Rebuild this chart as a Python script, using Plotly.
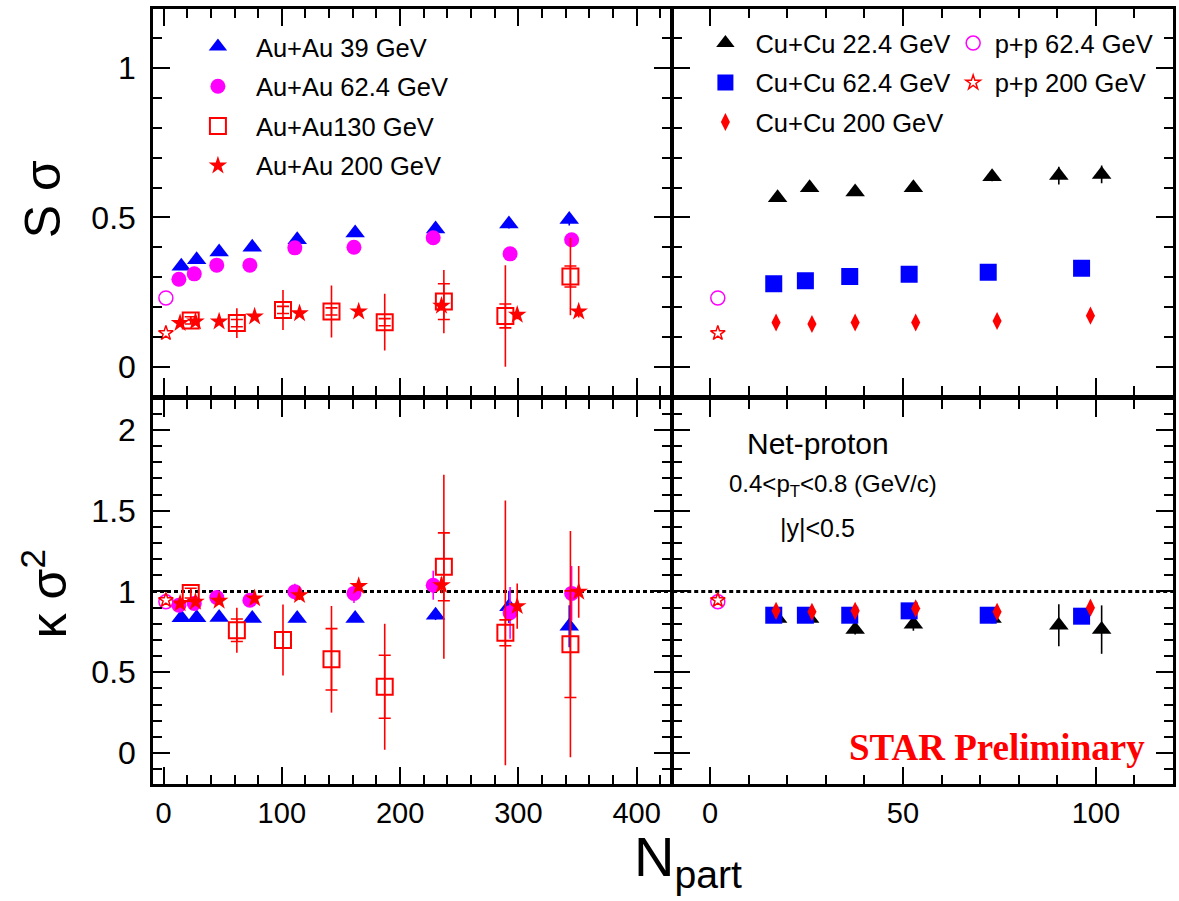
import plotly.graph_objects as go

# ---------------- data ----------------
# Npart values
npart_auau39 = [15, 28, 47, 75, 113, 162, 230, 292, 343]
npart_auau62 = [13, 26, 45, 73, 111, 161, 228, 293, 345]
npart_auau130 = [23, 62, 101, 142, 187, 237, 289, 344]
npart_auau200 = [14, 27, 47, 77, 115, 165, 235, 299, 351]
npart_pp = [2]
npart_cucu22 = [17.5, 25.8, 37.6, 52.7, 73.1, 90.4, 101.5]
npart_cucu62 = [16.5, 24.7, 36.2, 51.6, 72.1, 96.3]
npart_cucu200 = [17.1, 26.4, 37.6, 53.3, 74.4, 98.6]

# S*sigma
ss_auau39 = [0.336, 0.358, 0.384, 0.400, 0.425, 0.448, 0.461, 0.478, 0.493]
ss_auau39_err = [0.01, 0.01, 0.01, 0.01, 0.01, 0.01, 0.015, 0.015, 0.02]
ss_auau62 = [0.293, 0.311, 0.340, 0.340, 0.398, 0.400, 0.432, 0.378, 0.425]
ss_auau62_err = [0.01, 0.01, 0.01, 0.01, 0.01, 0.01, 0.015, 0.015, 0.02]
ss_auau130 = [0.155, 0.146, 0.190, 0.185, 0.149, 0.218, 0.170, 0.302]
ss_auau130_stat = [0.012, 0.05, 0.067, 0.087, 0.095, 0.106, 0.17, 0.13]
ss_auau130_sys = [0.012, 0.012, 0.012, 0.012, 0.012, 0.06, 0.04, 0.035]
ss_auau200 = [0.146, 0.151, 0.151, 0.168, 0.179, 0.185, 0.204, 0.174, 0.185]
ss_auau200_err = [0.01, 0.01, 0.01, 0.01, 0.01, 0.01, 0.015, 0.015, 0.02]
ss_pp62 = [0.230]
ss_pp200 = [0.112]
ss_cucu22 = [0.566, 0.599, 0.585, 0.599, 0.636, 0.640, 0.644]
ss_cucu22_err = [0.01, 0.01, 0.01, 0.012, 0.015, 0.03, 0.03]
ss_cucu62 = [0.278, 0.288, 0.302, 0.310, 0.316, 0.330]
ss_cucu200 = [0.148, 0.143, 0.148, 0.148, 0.153, 0.171]

# kappa*sigma^2
ks_auau39 = [0.837, 0.837, 0.839, 0.833, 0.833, 0.833, 0.853, 0.905, 0.785]
ks_auau39_err = [0.02, 0.02, 0.02, 0.02, 0.02, 0.02, 0.03, 0.10, 0.13]
ks_auau62 = [0.915, 0.926, 0.963, 0.946, 0.998, 0.988, 1.039, 0.868, 0.988]
ks_auau62_err = [0.02, 0.02, 0.03, 0.03, 0.05, 0.06, 0.09, 0.16, 0.17]
ks_auau130 = [0.990, 0.760, 0.700, 0.580, 0.410, 1.153, 0.744, 0.674]
ks_auau130_stat = [0.03, 0.14, 0.22, 0.33, 0.39, 0.57, 0.82, 0.70]
ks_auau130_sys = [0.03, 0.07, 0.05, 0.19, 0.195, 0.21, 0.08, 0.33]
ks_auau200 = [0.926, 0.936, 0.942, 0.957, 0.977, 1.033, 1.039, 0.909, 0.998]
ks_auau200_err = [0.02, 0.02, 0.02, 0.02, 0.03, 0.03, 0.05, 0.14, 0.16]
ks_pp62 = [0.936]
ks_pp200 = [0.946]
ks_cucu22 = [0.833, 0.833, 0.764, 0.797, 0.833, 0.791, 0.764]
ks_cucu22_err = [0.02, 0.02, 0.03, 0.04, 0.03, 0.13, 0.15]
ks_cucu62 = [0.853, 0.853, 0.853, 0.880, 0.853, 0.847]
ks_cucu200 = [0.880, 0.874, 0.880, 0.895, 0.874, 0.900]
ks_cucu200_err = [0.02, 0.02, 0.02, 0.02, 0.02, 0.02]

ref_line = 1.0

# ---------------- styles ----------------
FONT = "Liberation Sans, Arial, sans-serif"
RED = "#ff0000"
BLUE = "#0000ff"
MAG = "#ff00ff"
BLK = "#000000"

sty = {
    "auau39": dict(symbol="triangle-up", color=BLUE, size=17),
    "auau62": dict(symbol="circle", color=MAG, size=15),
    "auau130": dict(symbol="square-open", color=RED, size=16, line=dict(width=2, color=RED)),
    "auau200": dict(symbol="star", color=RED, size=14),
    "pp62": dict(symbol="circle-open", color=MAG, size=14, line=dict(width=1.5, color=MAG)),
    "pp200": dict(symbol="star-open", color=RED, size=11, line=dict(width=1.5, color=RED)),
    "cucu22": dict(symbol="triangle-up", color=BLK, size=17),
    "cucu62": dict(symbol="square", color=BLUE, size=17),
    "cucu200": dict(symbol="diamond-tall", color=RED, size=13),
}

fig = go.Figure()


def add(x, y, key, xa, ya, name=None, err=None, legend=None, color=None):
    marker = dict(sty[key])
    ekw = {}
    if err is not None:
        ekw["error_y"] = dict(type="data", array=err, visible=True, width=0,
                              thickness=1.6, color=color or marker["color"])
    fig.add_trace(go.Scatter(
        x=x, y=y, mode="markers", marker=marker, xaxis=xa, yaxis=ya,
        name=name or key, showlegend=legend is not None,
        legend=legend if legend else "legend",
        legendgroup=key, **ekw))


def add_sys(x, y, sys, xa, ya):
    fig.add_trace(go.Scatter(
        x=x, y=y, mode="markers", marker=dict(size=1, opacity=0),
        error_y=dict(type="data", array=sys, visible=True, width=6,
                     thickness=1.6, color=RED),
        xaxis=xa, yaxis=ya, showlegend=False, hoverinfo="skip"))


# top-left
add(npart_auau39, ss_auau39, "auau39", "x", "y", "Au+Au 39 GeV", ss_auau39_err, "legend")
add(npart_auau62, ss_auau62, "auau62", "x", "y", "Au+Au 62.4 GeV", ss_auau62_err, "legend")
add_sys(npart_auau130, ss_auau130, ss_auau130_sys, "x", "y")
add(npart_auau130, ss_auau130, "auau130", "x", "y", "Au+Au130 GeV", ss_auau130_stat, "legend")
add(npart_auau200, ss_auau200, "auau200", "x", "y", "Au+Au 200 GeV", ss_auau200_err, "legend")
add(npart_pp, ss_pp62, "pp62", "x", "y")
add(npart_pp, ss_pp200, "pp200", "x", "y")

# top-right
add(npart_cucu22, ss_cucu22, "cucu22", "x2", "y2", "Cu+Cu 22.4 GeV", ss_cucu22_err, "legend2")
add(npart_cucu62, ss_cucu62, "cucu62", "x2", "y2", "Cu+Cu 62.4 GeV", None, "legend2")
add(npart_cucu200, ss_cucu200, "cucu200", "x2", "y2", "Cu+Cu 200 GeV", None, "legend2")
add(npart_pp, ss_pp62, "pp62", "x2", "y2", "p+p 62.4 GeV", None, "legend3")
add(npart_pp, ss_pp200, "pp200", "x2", "y2", "p+p 200 GeV", None, "legend3")

# bottom-left
add(npart_auau39, ks_auau39, "auau39", "x3", "y3", err=ks_auau39_err)
add(npart_auau62, ks_auau62, "auau62", "x3", "y3", err=ks_auau62_err)
add_sys(npart_auau130, ks_auau130, ks_auau130_sys, "x3", "y3")
add(npart_auau130, ks_auau130, "auau130", "x3", "y3", err=ks_auau130_stat)
add(npart_auau200, ks_auau200, "auau200", "x3", "y3", err=ks_auau200_err)
add(npart_pp, ks_pp62, "pp62", "x3", "y3")
add(npart_pp, ks_pp200, "pp200", "x3", "y3")

# bottom-right
add(npart_cucu22, ks_cucu22, "cucu22", "x4", "y4", err=ks_cucu22_err)
add(npart_cucu62, ks_cucu62, "cucu62", "x4", "y4")
add(npart_cucu200, ks_cucu200, "cucu200", "x4", "y4", err=ks_cucu200_err)
add(npart_pp, ks_pp62, "pp62", "x4", "y4")
add(npart_pp, ks_pp200, "pp200", "x4", "y4")

# reference line at 1 in bottom panels
for xa, ya in (("x3", "y3"), ("x4", "y4")):
    fig.add_shape(type="line", xref=f"{xa} domain", yref=ya, x0=0, x1=1,
                  y0=ref_line, y1=ref_line,
                  line=dict(color="black", width=3, dash="4px,3px"), layer="below")

W, H = 1179, 901
L, R, T, B = 153, 3, 9, 117
PW, PH = W - L - R, H - T - B


def px(xp):
    return (xp - L) / PW


def py(yp):
    return (H - B - yp) / PH


LW = 2.5
ax_common = dict(showline=True, linecolor="black", linewidth=LW, mirror="allticks",
                 ticks="inside", tickcolor="black", tickwidth=1.5, ticklen=17,
                 showgrid=False, zeroline=False, color="black")


def minor(d):
    return dict(dtick=d, tick0=0, ticks="inside", ticklen=9, tickcolor="black", tickwidth=1.5)


xl_dom = [0, px(672.25)]
xr_dom = [px(674.75), 1]
yt_dom = [py(394.75), 1]
yb_dom = [0, py(400.25)]
xl_rng = [-8.9, 428.8]
xr_rng = [-9.56, 120]
yt_rng = [-0.094, 1.198]
yb_rng = [-0.192, 2.184]

fig.update_layout(
    width=W, height=H, margin=dict(l=L, r=R, t=T, b=B),
    paper_bgcolor="white", plot_bgcolor="white",
    font=dict(family=FONT, color="black"),
    xaxis=dict(domain=xl_dom, range=xl_rng, anchor="y", showticklabels=False,
               tickvals=[0, 100, 200, 300, 400], minor=minor(20), **ax_common),
    xaxis2=dict(domain=xr_dom, range=xr_rng, anchor="y2", showticklabels=False,
                tickvals=[0, 50, 100], minor=minor(10), **ax_common),
    xaxis3=dict(domain=xl_dom, range=xl_rng, anchor="y3",
                tickvals=[0, 100, 200, 300, 400], tickfont=dict(size=29, family=FONT),
                ticklabelstandoff=1, minor=minor(20), **ax_common),
    xaxis4=dict(domain=xr_dom, range=xr_rng, anchor="y4",
                tickvals=[0, 50, 100], tickfont=dict(size=29, family=FONT),
                ticklabelstandoff=1, minor=minor(10), **ax_common),
    yaxis=dict(domain=yt_dom, range=yt_rng, anchor="x",
               tickvals=[0, 0.5, 1], ticktext=["0", "0.5", "1"], tickfont=dict(size=32),
               ticklabelstandoff=8, minor=minor(0.1), **ax_common),
    yaxis2=dict(domain=yt_dom, range=yt_rng, anchor="x2", showticklabels=False,
                tickvals=[0, 0.5, 1], minor=minor(0.1), **ax_common),
    yaxis3=dict(domain=yb_dom, range=yb_rng, anchor="x3",
                tickvals=[0, 0.5, 1, 1.5, 2], ticktext=["0", "0.5", "1", "1.5", "2"],
                tickfont=dict(size=32), ticklabelstandoff=8, minor=minor(0.1), **ax_common),
    yaxis4=dict(domain=yb_dom, range=yb_rng, anchor="x4", showticklabels=False,
                tickvals=[0, 0.5, 1, 1.5, 2], minor=minor(0.1), **ax_common),
    legend=dict(x=px(180), y=py(23.5), xanchor="left", yanchor="top", bgcolor="rgba(0,0,0,0)",
                font=dict(size=25.5, family=FONT), itemwidth=66, tracegroupgap=3.5),
    legend2=dict(x=px(697), y=py(20), xanchor="left", yanchor="top", bgcolor="rgba(0,0,0,0)",
                 font=dict(size=25.5, family=FONT), itemwidth=50, tracegroupgap=3.3),
    legend3=dict(x=px(954), y=py(20), xanchor="left", yanchor="top", bgcolor="rgba(0,0,0,0)",
                 font=dict(size=25.5, family=FONT), itemwidth=33, tracegroupgap=3.3),
)

ann = [
    dict(text="Net-proton", x=px(820), y=py(443), size=30),
    dict(text="0.4&lt;p<sub>T</sub>&lt;0.8 (GeV/c)", x=px(835), y=py(485), size=24),
    dict(text="|y|&lt;0.5", x=px(819), y=py(528), size=25),
]
for a in ann:
    fig.add_annotation(text=a["text"], x=a["x"], y=a["y"], xref="paper", yref="paper",
                       showarrow=False, font=dict(size=a["size"], family=FONT, color="black"),
                       xanchor="center", yanchor="middle")

fig.add_annotation(text="<b>STAR Preliminary</b>", x=px(999), y=py(747), xref="paper", yref="paper",
                   showarrow=False, font=dict(size=37, family="Liberation Serif, Times New Roman, serif", color=RED),
                   xanchor="center", yanchor="middle")
fig.add_annotation(text="S σ", x=px(43), y=py(199), xref="paper", yref="paper", textangle=-90,
                   showarrow=False, font=dict(size=50, family=FONT, color="black"),
                   xanchor="center", yanchor="middle")
fig.add_annotation(text="κ σ<sup>2</sup>", x=px(45), y=py(594), xref="paper", yref="paper", textangle=-90,
                   showarrow=False, font=dict(size=50, family=FONT, color="black"),
                   xanchor="center", yanchor="middle")
fig.add_annotation(text="N<sub>part</sub>", x=px(690), y=py(860), xref="paper", yref="paper",
                   showarrow=False, font=dict(size=56, family=FONT, color="black"),
                   xanchor="center", yanchor="middle")

fig.write_html("out.html", config={"displayModeBar": False},
               post_script="document.body.style.margin='0px';")
